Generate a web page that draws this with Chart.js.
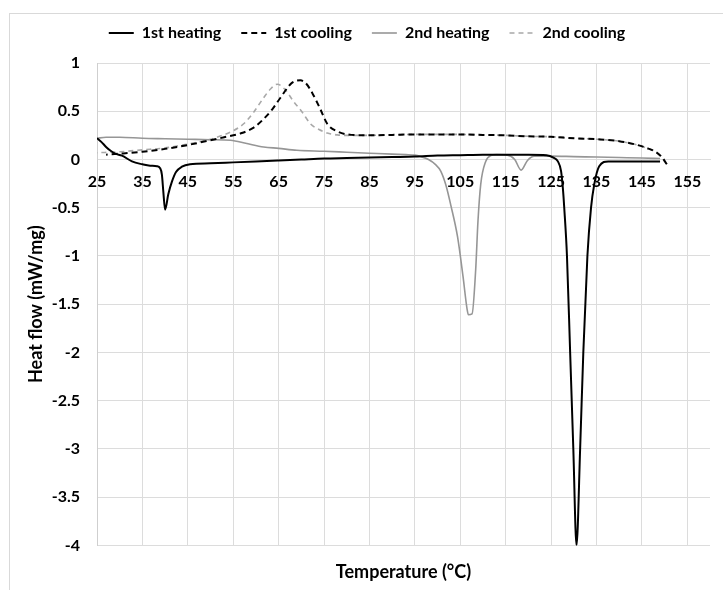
<!DOCTYPE html>
<html>
<head>
<meta charset="utf-8">
<title>DSC heat flow</title>
<script src="https://cdn.jsdelivr.net/npm/chart.js@4.4.1/dist/chart.umd.min.js"></script>
<style>
    html, body { margin: 0; padding: 0; background: #fff; }
    #wrap { position: relative; width: 723px; height: 590px; overflow: hidden; }
    #frame { position: absolute; left: 9px; top: 13px; right: -2px; bottom: -2px; border-left: 1px solid #d9d9d9; border-top: 1px solid #d9d9d9; }
    #dscChart { position: absolute; left: 0; top: 0; }
</style>
</head>
<body>
<div id="wrap">
    <div id="frame"></div>
    <canvas id="dscChart" width="723" height="590"></canvas>
</div>
<script>
// axis ticks
const xTicks = [25, 35, 45, 55, 65, 75, 85, 95, 105, 115, 125, 135, 145, 155];
const yTicks = [1, 0.5, 0, -0.5, -1, -1.5, -2, -2.5, -3, -3.5, -4];

// 1st heating
const heat1T = [25, 26, 27, 28, 29, 30.5, 32.7, 35, 36.7, 38.2, 38.9, 39.3, 39.6, 40.0, 40.7, 41.5, 42.4, 43.7, 45.5, 50,
    55, 60, 65, 70, 75, 80, 85, 90, 95, 100, 105, 110, 115, 120, 124, 125.5, 126.5, 127.2, 127.6, 127.9,
    128.5, 129.2, 129.9, 130.6, 131.4, 132.1, 133.0, 133.8, 134.5, 135.6, 137.6, 140, 145, 149];
const heat1Q = [0.22, 0.18, 0.13, 0.09, 0.06, 0.04, -0.02, -0.05, -0.065, -0.07, -0.09, -0.16, -0.33, -0.52, -0.36, -0.23, -0.13, -0.075, -0.05, -0.04,
    -0.03, -0.02, -0.01, 0.0, 0.01, 0.015, 0.02, 0.025, 0.03, 0.04, 0.045, 0.05, 0.05, 0.05, 0.045, 0.02, -0.02, -0.12, -0.3, -0.5,
    -1.0, -2.0, -3.0, -4.0, -3.0, -2.0, -1.0, -0.5, -0.26, -0.07, -0.02, -0.02, -0.02, -0.02];

// 1st cooling (150 -> 25)
const cool1T = [150.5, 149.5, 148, 146, 144, 140, 135, 130, 125, 120, 115, 110, 105, 100, 95, 90, 85, 81, 78, 75.7,
    74.2, 72.4, 71, 69.8, 68.5, 67.6, 65.4, 63.6, 61.7, 59.5, 56.6, 53, 50, 45, 40, 35, 30, 27];
const cool1Q = [-0.05, 0.02, 0.08, 0.12, 0.15, 0.19, 0.21, 0.22, 0.235, 0.24, 0.25, 0.255, 0.26, 0.26, 0.26, 0.255, 0.25, 0.255, 0.29, 0.37,
    0.52, 0.69, 0.79, 0.82, 0.81, 0.78, 0.64, 0.52, 0.42, 0.33, 0.27, 0.23, 0.2, 0.15, 0.11, 0.08, 0.06, 0.05];

// 2nd heating
const heat2T = [25, 27, 30, 35, 40, 45, 50, 54.4, 58, 61.7, 65, 69, 75, 80, 85, 90, 93, 95, 96.3, 98,
    99.5, 100.7, 101.8, 102.9, 104.4, 105.6, 106.5, 106.8, 107.6, 108.4, 108.9, 109.5, 110.6, 111.7, 113, 115.4, 117, 118.4, 119.8, 121.3,
    125, 130, 135, 140, 145, 149];
const heat2Q = [0.22, 0.23, 0.23, 0.22, 0.215, 0.21, 0.205, 0.2, 0.165, 0.13, 0.115, 0.095, 0.085, 0.075, 0.065, 0.055, 0.05, 0.045, 0.03, 0.0,
    -0.05, -0.12, -0.26, -0.47, -0.8, -1.21, -1.55, -1.61, -1.6, -1.14, -0.64, -0.26, -0.02, 0.04, 0.05, 0.045, 0.0, -0.11, -0.01, 0.035,
    0.035, 0.03, 0.025, 0.02, 0.015, 0.01];

// 2nd cooling (150 -> 25)
const cool2T = [150.3, 149.3, 148, 146, 144, 140, 135, 130, 125, 120, 115, 110, 105, 100, 95, 90, 85, 80, 77.9, 75.7,
    73.9, 72, 70.2, 68.3, 66.5, 64.7, 63.2, 61.7, 59.5, 57.3, 55.1, 52, 50, 45, 40, 35, 30, 25];
const cool2Q = [-0.04, 0.02, 0.08, 0.12, 0.15, 0.19, 0.21, 0.22, 0.235, 0.24, 0.25, 0.255, 0.26, 0.26, 0.26, 0.255, 0.25, 0.25, 0.255, 0.275,
    0.31, 0.37, 0.49, 0.6, 0.72, 0.78, 0.73, 0.64, 0.49, 0.37, 0.3, 0.24, 0.21, 0.16, 0.12, 0.1, 0.08, 0.07];

const toPoints = (xs, ys) => xs.map((x, i) => ({x: x, y: ys[i]}));

Chart.defaults.font.family = "Lato, 'Open Sans', sans-serif";
Chart.defaults.font.weight = 'bold';
Chart.defaults.color = '#000';

// extra room between the legend and the plot
const legendGap = {
    id: 'legendGap',
    afterInit(chart) {
        const fit = chart.legend.fit;
        chart.legend.fit = function() {
            fit.call(this);
            this.height += 12;
        };
    }
};

const gridColor = '#dcdcdc';

new Chart(document.getElementById('dscChart'), {
    type: 'line',
    data: {
        datasets: [
            {
                label: '1st heating',
                data: toPoints(heat1T, heat1Q),
                borderColor: '#000000',
                borderWidth: 2
            },
            {
                label: '1st cooling',
                data: toPoints(cool1T, cool1Q),
                borderColor: '#000000',
                borderWidth: 2,
                borderDash: [6, 4]
            },
            {
                label: '2nd heating',
                data: toPoints(heat2T, heat2Q),
                borderColor: '#969696',
                borderWidth: 1.6
            },
            {
                label: '2nd cooling',
                data: toPoints(cool2T, cool2Q),
                borderColor: '#a8a8a8',
                borderWidth: 1.6,
                borderDash: [5, 4]
            }
        ]
    },
    options: {
        responsive: false,
        animation: false,
        events: [],
        datasets: {
            line: { pointRadius: 0, cubicInterpolationMode: 'monotone', fill: false }
        },
        layout: { padding: { top: 5, left: 24, right: 13, bottom: 0 } },
        plugins: {
            legend: {
                position: 'top',
                labels: {
                    usePointStyle: true,
                    pointStyle: 'line',
                    pointStyleWidth: 25,
                    padding: 20,
                    font: { size: 16, weight: 'bold' },
                    color: '#000',
                    // legend samples take the line dash and width of the series
                    generateLabels: function(chart) {
                        const items = Chart.defaults.plugins.legend.labels.generateLabels(chart);
                        items.forEach(item => {
                            const ds = chart.data.datasets[item.datasetIndex];
                            item.lineDash = ds.borderDash || [];
                            item.lineWidth = ds.borderWidth;
                            item.strokeStyle = ds.borderColor;
                        });
                        return items;
                    }
                }
            },
            tooltip: { enabled: false }
        },
        scales: {
            x: {
                type: 'linear',
                position: { y: 0 },
                min: 25,
                max: 160,
                afterBuildTicks: function(scale) {
                    scale.ticks = xTicks.map(v => ({ value: v }));
                },
                grid: { color: gridColor, drawTicks: false },
                border: { color: gridColor },
                ticks: {
                    autoSkip: false,
                    maxRotation: 0,
                    padding: 13,
                    font: { size: 16, weight: 'bold' },
                    callback: v => String(v)
                }
            },
            xTitle: {
                type: 'linear',
                position: 'bottom',
                grid: { display: false },
                border: { display: false },
                ticks: { display: false },
                title: {
                    display: true,
                    text: 'Temperature (°C)',
                    font: { size: 18, weight: 'bold' },
                    padding: { top: 8, bottom: 7 }
                }
            },
            y: {
                min: -4,
                max: 1,
                afterBuildTicks: function(scale) {
                    scale.ticks = yTicks.map(v => ({ value: v }));
                },
                afterFit: function(scale) {
                    scale.width = 73;
                },
                grid: { color: gridColor, drawTicks: false },
                border: { color: '#cfcfcf' },
                ticks: {
                    padding: 17,
                    font: { size: 16, weight: 'bold' },
                    callback: v => String(v)
                },
                title: {
                    display: true,
                    text: 'Heat flow (mW/mg)',
                    font: { size: 18, weight: 'bold' },
                    padding: { top: 1, bottom: 0 }
                }
            }
        }
    },
    plugins: [legendGap]
});
</script>
</body>
</html>
